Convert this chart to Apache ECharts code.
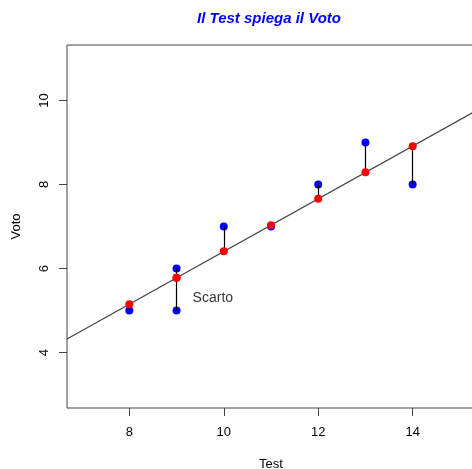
<!DOCTYPE html>
<html>
<head>
<meta charset="utf-8">
<script src="https://cdn.jsdelivr.net/npm/echarts@6/dist/echarts.min.js"></script>
<style>
html,body{margin:0;padding:0;background:#fff;}
#c{width:472px;height:469px;}
</style>
</head>
<body>
<div id="c"></div>
<script>
// Data
const testScores = [8, 9, 9, 10, 11, 12, 13, 14];
const votoObserved = [5, 6, 5, 7, 7, 8, 9, 8];
const votoFitted = [5.15, 5.78, 5.78, 6.41, 7.03, 7.66, 8.29, 8.91];
const lineX = [6.68, 15.32];
const lineY = [4.32, 9.74];
const xTicks = [8, 10, 12, 14];
const yTicks = [4, 6, 8, 10];
const annotation = { text: 'Scarto', x: 9.34, y: 5.29 };

const font = 'Liberation Sans, Arial, sans-serif';
const chart = echarts.init(document.getElementById('c'), null, { renderer: 'canvas' });

const observedPts = testScores.map((x, i) => [x, votoObserved[i]]);
const fittedPts = testScores.map((x, i) => [x, votoFitted[i]]);
const segments = testScores.map((x, i) => ({ coords: [[x, votoObserved[i]], [x, votoFitted[i]]] }));
const regLine = lineX.map((x, i) => [x, lineY[i]]);

chart.setOption({
  animation: false,
  backgroundColor: '#fff',
  title: {
    text: 'Il Test spiega il Voto',
    left: 264, top: 6, textAlign: 'center',
    textStyle: { color: '#0000ff', fontStyle: 'italic', fontWeight: 'bold', fontSize: 15, fontFamily: font }
  },
  grid: { left: 67, top: 45, width: 408, height: 363, outerBoundsMode: 'none', containLabel: false,
    show: true, borderColor: '#444', borderWidth: 1, backgroundColor: 'transparent' },
  xAxis: {
    type: 'value', min: 6.68, max: 15.32,
    name: 'Test', nameLocation: 'middle', nameGap: 50,
    nameTextStyle: { color: '#000', fontSize: 13, fontFamily: font },
    splitLine: { show: false },
    axisLine: { show: false },
    axisTick: { show: true, length: 8, customValues: xTicks, lineStyle: { color: '#444' } },
    axisLabel: { customValues: xTicks, margin: 18, color: '#000', fontSize: 13, fontFamily: font }
  },
  yAxis: {
    type: 'value', min: 2.68, max: 11.32,
    name: 'Voto', nameLocation: 'middle', nameGap: 44, nameRotate: 90,
    nameTextStyle: { color: '#000', fontSize: 13, fontFamily: font },
    splitLine: { show: false },
    axisLine: { show: false },
    axisTick: { show: true, length: 8, customValues: yTicks, lineStyle: { color: '#444' } },
    axisLabel: { customValues: yTicks, rotate: 90, margin: 16, color: '#000', fontSize: 13, fontFamily: font }
  },
  series: [
    {
      type: 'scatter', data: observedPts, symbol: 'circle', symbolSize: 8,
      itemStyle: { color: '#0000ff', opacity: 1 }, z: 2
    },
    {
      type: 'lines', coordinateSystem: 'cartesian2d', data: segments,
      lineStyle: { color: '#000', width: 1.2, opacity: 1 }, z: 3
    },
    {
      type: 'line', data: regLine, showSymbol: false, symbol: 'none',
      lineStyle: { color: '#444', width: 1.2 }, z: 4
    },
    {
      type: 'scatter', data: fittedPts, symbol: 'circle', symbolSize: 8,
      itemStyle: { color: '#ff0000', opacity: 1 }, z: 5
    },
    {
      type: 'scatter', data: [[annotation.x, annotation.y]], symbolSize: 0,
      label: { show: true, position: 'right', distance: 0, formatter: annotation.text, color: '#000', fontSize: 14, fontFamily: font },
      z: 6
    }
  ]
});
</script>
</body>
</html>
